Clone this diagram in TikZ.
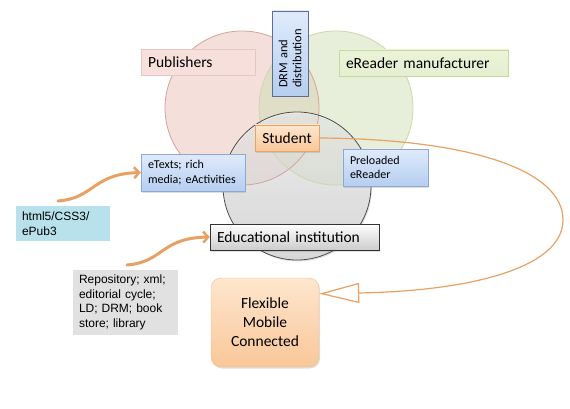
\documentclass[tikz,border=0pt]{standalone}
\usepackage{fontspec}
\setmainfont{Carlito}
\newfontfamily\arialfont{Liberation Sans}
\usetikzlibrary{arrows.meta}
\usetikzlibrary{shadows}
\definecolor{pinkline}{HTML}{D4A39B}
\definecolor{pinkfill}{HTML}{E9BFB8}
\definecolor{pinkbox}{HTML}{F7E0DC}
\definecolor{greenline}{HTML}{C9D9A9}
\definecolor{greenfill}{HTML}{CFDDB3}
\definecolor{greenbox}{HTML}{EBF3D8}
\definecolor{greenboxline}{HTML}{C4DA98}
\definecolor{blueline}{HTML}{8DA8D3}
\definecolor{bluetop}{HTML}{DFEBFB}
\definecolor{bluebot}{HTML}{B6CEF0}
\definecolor{drmline}{HTML}{5C6F8E}
\definecolor{orangeline}{HTML}{E5A468}
\definecolor{orangetop}{HTML}{FEE6CD}
\definecolor{orangebot}{HTML}{F9C799}
\definecolor{arrowor}{HTML}{E8A162}
\definecolor{cyanbox}{HTML}{B9E1EC}
\definecolor{greybox}{HTML}{E1E1E1}
\tikzset{box/.style = {draw, rectangle, inner xsep=7pt, inner ysep=0pt, align=left}}
\tikzset{shade/.style = {drop shadow={shadow xshift=1pt, shadow yshift=-1.5pt, opacity=0.25}}}
\tikzset{bluebox/.style = {box, shade, draw=blueline, top color=bluetop, bottom color=bluebot,
                           font=\fontsize{12}{14.5}\selectfont}}
\tikzset{plainbox/.style = {rectangle, inner xsep=6pt, inner ysep=0pt, align=left,
                            font=\arialfont\fontsize{12}{14.6}\selectfont}}
\tikzset{bigtext/.style = {font=\fontsize{15.5}{19}\selectfont}}
\tikzset{feed/.style = {arrowor, line width=3pt, line cap=round,
                        -{Straight Barb[length=5pt, width=11pt, line width=2.5pt]}}}

\begin{document}
\begin{tikzpicture}[x=1pt, y=-1pt]
  \useasboundingbox (0,0) rectangle (570,409);

  % circles
  \coordinate (cpub) at (242,108);
  \coordinate (crd) at (336,108);
  \coordinate (cedu) at (297,186);
  \fill[pinkfill, fill opacity=0.5] (cpub) circle (77);
  \fill[greenfill, fill opacity=0.5] (crd) circle (77);
  \shade[top color=gray!8, bottom color=gray!35, fill opacity=0.6] (cedu) circle (74);
  \draw[pinkline, thick] (cpub) circle (77);
  \draw[greenline, thick] (crd) circle (77);
  \draw[black!70, thick] (cedu) circle (74);

  % boxes
  \node[box, bigtext, draw=pinkline!60, fill=pinkbox, minimum width=114, minimum height=26,
        text width=100] (pub) at (198,62) {Publishers};
  \node[box, bigtext, draw=greenboxline, top color=greenbox, bottom color=greenbox!80!greenfill,
        minimum width=169, minimum height=26, text width=155] (rdr) at (423.5,63) {eReader manufacturer};
  \node[box, shade, draw=drmline, top color=bluetop, bottom color=bluebot, rotate=90,
        inner xsep=8pt, minimum width=85, minimum height=36, text width=69,
        font=\fontsize{12.5}{14}\selectfont] (drm) at (290,53.5) {DRM and\\distribution};
  \node[box, bigtext, shade, draw=orangeline, top color=orangetop, bottom color=orangebot,
        minimum width=64, minimum height=26, align=center] (stu) at (287,138) {Student};
  \node[bluebox, minimum width=104, minimum height=37, text width=90] (etx) at (193,172.5)
        {eTexts; rich\\media; eActivities};
  \node[bluebox, minimum width=85, minimum height=37, text width=71] (pre) at (385.5,167.5)
        {Preloaded\\eReader};
  \node[box, bigtext, shade, draw=black!80, top color=white, bottom color=gray!40,
        minimum width=169, minimum height=26, text width=155] (edu) at (294.5,237)
        {Educational institution};
  \node[plainbox, fill=cyanbox, minimum width=94, minimum height=35, text width=82] (htm) at (63,223.5)
        {html5/CSS3/\\ePub3};
  \node[plainbox, fill=greybox, minimum width=105, minimum height=65, text width=93] (rep) at (125.5,302.5)
        {Repository; xml;\\editorial cycle;\\LD; DRM; book\\store; library};
  \node[bigtext, draw=orangeline!70, top color=orangetop, bottom color=orangebot, shade,
        rounded corners=10pt, minimum width=108, minimum height=89, align=center] (flx) at (265,322.5)
        {Flexible\\Mobile\\Connected};

  % connectors
  \coordinate (hs) at (58,201);
  \coordinate (rs) at (127,265);
  \draw[feed] (hs) .. controls (95,198) and (92,174) .. (etx.west);
  \draw[feed] (rs) .. controls (164,262) and (160,238) .. (edu.west);
  \draw[arrowor, line width=1.2pt, -{Triangle[open, fill=white, length=40pt, width=20pt]}]
    (stu.east) .. controls (470,139) and (563,170) .. (563,220)
    .. controls (563,268) and (470,291) .. (flx.28);
\end{tikzpicture}
\end{document}
